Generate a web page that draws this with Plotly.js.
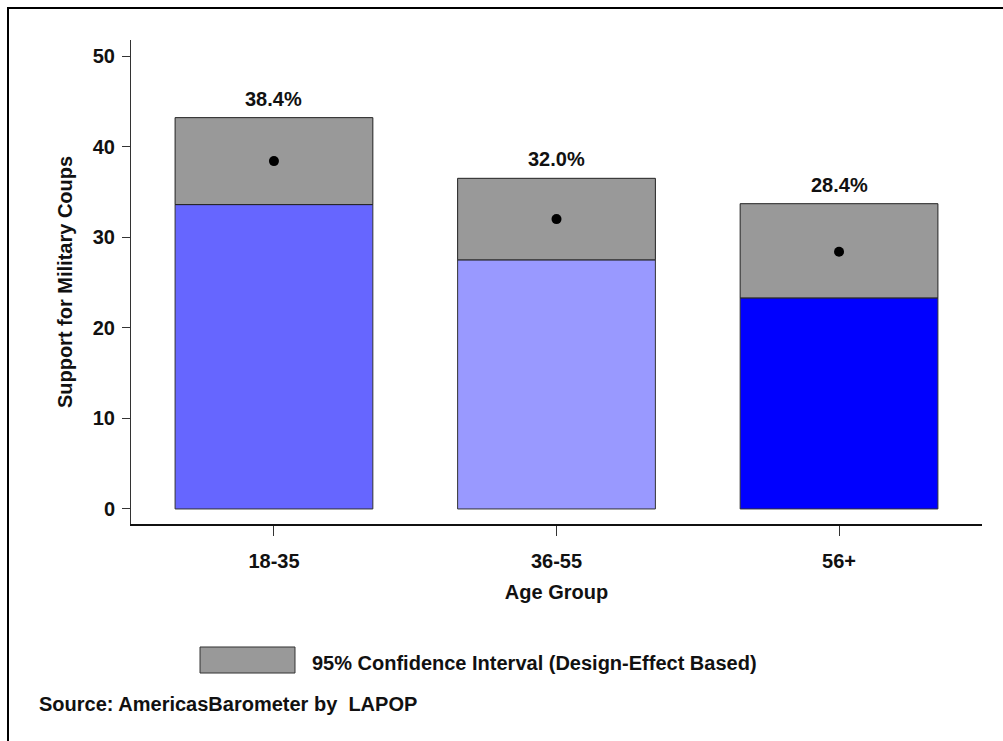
<!DOCTYPE html>
<html>
<head>
<meta charset="utf-8">
<script src="https://cdn.plot.ly/plotly-3.0.1.min.js"></script>
<style>
html,body{margin:0;padding:0;background:#fff;}
#wrap{position:relative;width:1003px;height:741px;overflow:hidden;}
#chart{width:1003px;height:741px;}
#frame{position:absolute;left:7px;top:7px;width:1100px;height:900px;border-left:2px solid #000;border-top:2px solid #000;pointer-events:none;}
</style>
</head>
<body>
<div id="wrap"><div id="chart"></div><div id="frame"></div></div>
<script>
var categories = ["18-35", "36-55", "56+"];
var means = [38.4, 32.0, 28.4];
var lowerCI = [33.6, 27.5, 23.3];
var upperCI = [43.2, 36.5, 33.7];
var barColors = ["#6666ff", "#9999ff", "#0000ff"];
var valueLabels = ["38.4%", "32.0%", "28.4%"];
var yTicks = [0, 10, 20, 30, 40, 50];
var legendText = "95% Confidence Interval (Design-Effect Based)";
var sourceText = "Source: AmericasBarometer by  LAPOP";
var xTitle = "Age Group";
var yTitle = "Support for Military Coups";

var FONT = "Liberation Sans, Arial, sans-serif";
var fsz = 20;
function f(sz){ return {family: FONT, size: sz || fsz, color: "#111", weight: "bold"}; }

var ciHeights = upperCI.map(function(u, i){ return u - lowerCI[i]; });

var traces = [
  {
    type: "bar", x: categories, y: lowerCI, base: 0,
    marker: {color: barColors, line: {color: "#333333", width: 1}},
    width: 0.7, hoverinfo: "skip", showlegend: false
  },
  {
    type: "bar", x: categories, y: ciHeights, base: lowerCI,
    marker: {color: "#999999", line: {color: "#222222", width: 1}},
    width: 0.7, hoverinfo: "skip", showlegend: false
  },
  {
    type: "scatter", mode: "markers", x: categories, y: means,
    marker: {color: "#000000", size: 10},
    hoverinfo: "skip", showlegend: false
  }
];

var labelAnns = categories.map(function(c, i){
  return {x: c, y: upperCI[i], xref: "x", yref: "y", text: valueLabels[i],
          showarrow: false, xanchor: "center", yanchor: "bottom", yshift: 6, font: f()};
});

var layout = {
  width: 1003, height: 741,
  margin: {l: 131, r: 21, t: 40, b: 217},
  paper_bgcolor: "#ffffff", plot_bgcolor: "#ffffff",
  barmode: "overlay",
  showlegend: false,
  font: f(),
  xaxis: {
    type: "category",
    range: [-0.506, 2.506],
    showline: true, linecolor: "#111", linewidth: 2,
    ticks: "outside", ticklen: 10, tickwidth: 1, tickcolor: "#333",
    ticklabelstandoff: 8,
    showgrid: false, zeroline: false,
    tickfont: f(),
    title: {text: xTitle, font: f(), standoff: 14}
  },
  yaxis: {
    range: [-1.66, 51.77],
    tickvals: yTicks,
    showline: true, linecolor: "#333", linewidth: 1,
    ticks: "outside", ticklen: 8, tickwidth: 1, tickcolor: "#333",
    ticklabelstandoff: 3,
    showgrid: false, zeroline: false,
    tickfont: f(),
    title: {text: yTitle, font: f(), standoff: 14}
  },
  shapes: [
    {type: "rect", xref: "paper", yref: "paper",
     x0: 0.0811, x1: 0.1927, y0: -0.3079, y1: -0.2541,
     fillcolor: "#999999", line: {color: "#333333", width: 1}}
  ],
  annotations: labelAnns.concat([
    {xref: "paper", yref: "paper", x: 0.2103, y: -0.2872, xanchor: "left", yanchor: "middle",
     text: legendText, showarrow: false, font: f()},
    {xref: "paper", yref: "paper", x: -0.1105, y: -0.3719, xanchor: "left", yanchor: "middle",
     text: sourceText, showarrow: false, font: f()}
  ])
};

Plotly.newPlot("chart", traces, layout, {displayModeBar: false, staticPlot: true});
</script>
</body>
</html>
